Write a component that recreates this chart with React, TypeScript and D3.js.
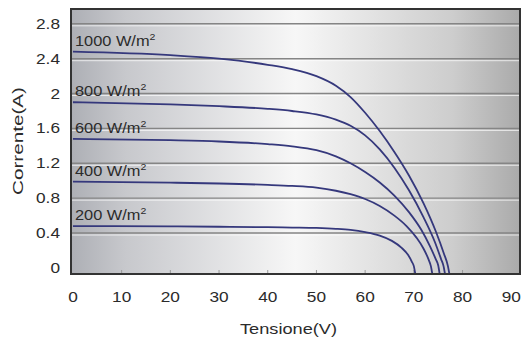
import React from "react";
import * as d3 from "d3";

// I-V curves of a PV module at different irradiance levels, [V, A]
const irradiances = ["1000", "800", "600", "400", "200"];

const curve1000 = [
  [0, 2.48], [20, 2.44], [30, 2.4], [40, 2.33], [45, 2.28], [50, 2.2],
  [54, 2.09], [57, 1.96], [60, 1.78], [63, 1.57], [66, 1.33], [69, 1.06],
  [72, 0.74], [74.5, 0.42], [76.2, 0.16], [77, 0.02], [77.3, -0.07],
];
const curve800 = [
  [0, 1.9], [20, 1.875], [30, 1.855], [40, 1.825], [45, 1.8], [50, 1.76],
  [54, 1.7], [57, 1.63], [60, 1.52], [63, 1.36], [66, 1.15], [69, 0.89],
  [72, 0.58], [74.3, 0.3], [75.6, 0.1], [76.1, 0.02], [76.4, -0.07],
];
const curve600 = [
  [0, 1.48], [20, 1.465], [30, 1.45], [40, 1.42], [45, 1.395], [50, 1.35],
  [54, 1.28], [57, 1.2], [60, 1.1], [63, 0.98], [66, 0.83], [69, 0.64],
  [71.5, 0.44], [73.3, 0.25], [74.5, 0.1], [75, 0.03], [75.3, -0.07],
];
const curve400 = [
  [0, 0.99], [20, 0.978], [30, 0.968], [40, 0.952], [45, 0.94], [50, 0.92],
  [54, 0.885], [57, 0.845], [60, 0.79], [63, 0.71], [66, 0.6], [68.5, 0.48],
  [70.5, 0.35], [72, 0.22], [73, 0.1], [73.5, 0.02], [73.8, -0.07],
];
const curve200 = [
  [0, 0.48], [20, 0.476], [30, 0.472], [40, 0.467], [45, 0.463], [50, 0.458],
  [54, 0.448], [57, 0.435], [60, 0.41], [63, 0.37], [65.5, 0.31], [67.5, 0.23],
  [68.8, 0.15], [69.6, 0.07], [70, 0.02], [70.3, -0.07],
];
const curves = [curve1000, curve800, curve600, curve400, curve200];

const xTicks = [0, 10, 20, 30, 40, 50, 60, 70, 80, 90];
const yTicks = [0, 0.4, 0.8, 1.2, 1.6, 2, 2.4, 2.8];

const left = 71;
const right = 520;
const top = 9;
const bottom = 274;

const font = "'Liberation Sans', Arial, sans-serif";
const textColor = "#2b2b2b";

export default function App() {
  const x = d3.scaleLinear().domain([-0.4, 91.8]).range([left, right]);
  const y = d3.scaleLinear().domain([-0.07, 2.97]).range([bottom, top]);

  const line = d3
    .line<number[]>()
    .x((d) => x(d[0]))
    .y((d) => y(d[1]))
    .curve(d3.curveMonotoneX);

  return (
    <svg
      width={524}
      height={340}
      style={{ position: "absolute", left: 0, top: 0, background: "#fff" }}
    >
      <defs>
        <linearGradient id="bg" x1="0" x2="1" y1="0" y2="0">
          <stop offset="0" stopColor="#adafb5" />
          <stop offset="0.12" stopColor="#c7c8cc" />
          <stop offset="0.5" stopColor="#f7f7f7" />
          <stop offset="0.85" stopColor="#cdcdcd" />
          <stop offset="1" stopColor="#aaaaaa" />
        </linearGradient>
        <clipPath id="plot">
          <rect x={left} y={top} width={right - left} height={bottom - top} />
        </clipPath>
      </defs>

      <rect x={left} y={top} width={right - left} height={bottom - top} fill="url(#bg)" />

      {/* grid lines with a light highlight underneath */}
      {yTicks
        .filter((t) => t > 0)
        .map((t) => (
          <g key={t}>
            <line x1={left} x2={right} y1={y(t)} y2={y(t)} stroke="#858585" strokeWidth={1.4} />
            <line x1={left} x2={right} y1={y(t) + 2} y2={y(t) + 2} stroke="#ffffff" strokeOpacity={0.7} strokeWidth={1} />
          </g>
        ))}

      {/* small ticks on the bottom axis */}
      {xTicks
        .filter((t) => t > 0 && t < 90)
        .map((t) => (
          <line key={t} x1={x(t)} x2={x(t)} y1={bottom} y2={bottom - 4} stroke="#999" strokeWidth={1} />
        ))}

      <g clipPath="url(#plot)">
        {curves.map((c, i) => (
          <path key={i} d={line(c) || ""} fill="none" stroke="#35387c" strokeWidth={1.8} />
        ))}
      </g>

      {/* curve labels */}
      {curves.map((c, i) => (
        <text
          key={i}
          transform={`translate(${x(0) + 2}, ${y(c[0][1]) - 6}) scale(1.17,1)`}
          fontFamily={font}
          fontSize={14}
          fill={textColor}
        >
          {irradiances[i]} W/m
          <tspan fontSize={9} dy={-6}>2</tspan>
        </text>
      ))}

      <rect
        x={left}
        y={top}
        width={right - left}
        height={bottom - top}
        fill="none"
        stroke="#333"
        strokeWidth={2}
      />

      {/* y tick labels */}
      {yTicks.map((t) => (
        <text
          key={t}
          transform={`translate(60, ${y(t) + 5}) scale(1.15,1)`}
          textAnchor="end"
          fontFamily={font}
          fontSize={15}
          fill={textColor}
        >
          {d3.format("~g")(t)}
        </text>
      ))}

      {/* x tick labels */}
      {xTicks.map((t) => (
        <text
          key={t}
          transform={`translate(${x(t)}, 302) scale(1.15,1)`}
          textAnchor="middle"
          fontFamily={font}
          fontSize={15}
          fill={textColor}
        >
          {t}
        </text>
      ))}

      <text
        x={288.5}
        y={334}
        textAnchor="middle"
        fontFamily={font}
        fontSize={15}
        fill={textColor}
        textLength={97}
        lengthAdjust="spacingAndGlyphs"
      >
        Tensione(V)
      </text>
      <text
        transform="translate(23, 141) rotate(-90)"
        textAnchor="middle"
        fontFamily={font}
        fontSize={15}
        fill={textColor}
        textLength={108}
        lengthAdjust="spacingAndGlyphs"
      >
        Corrente(A)
      </text>
    </svg>
  );
}
